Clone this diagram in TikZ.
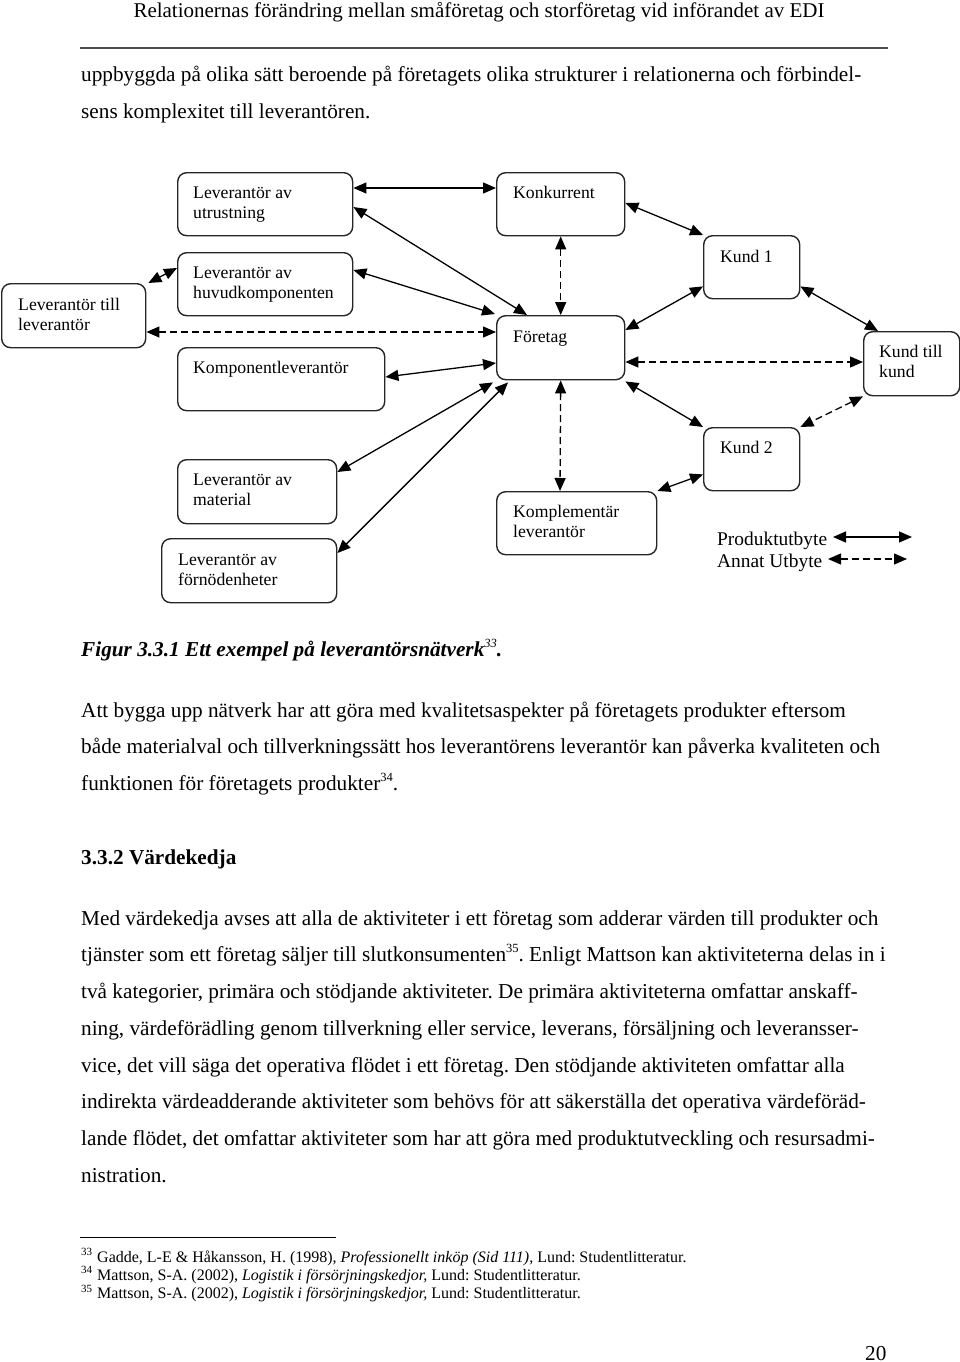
\documentclass[tikz,border=0pt]{standalone}
\usepackage{fontspec}
\setmainfont{Liberation Serif}
\usetikzlibrary{arrows.meta,calc}
\newcommand\supmark[1]{\raisebox{0.42em}{\fontsize{12.5}{12.5}\selectfont #1}}
\newcommand\fnmark[1]{\raisebox{0.42em}{\fontsize{11}{11}\selectfont #1}}
\frenchspacing
\begin{document}
\frenchspacing
\begin{tikzpicture}[x=1pt,y=-1pt,
  box/.style={draw=black!85, line width=1.4pt, rounded corners=9pt, inner sep=0pt, anchor=north west},
  lbl/.style={anchor=base west, inner sep=0pt, font=\fontsize{17.7}{20.5}\selectfont},
  leg/.style={anchor=base west, inner sep=0pt, font=\fontsize{19.4}{22}\selectfont},
  con/.style={line width=1.3pt, {Triangle[length=13pt,width=11pt]}-{Triangle[length=13pt,width=11pt]}},
  dsh/.style={con, dash pattern=on 7pt off 4pt},
  body/.style={anchor=base west, inner sep=0pt, font=\fontsize{21.25}{36.75}\selectfont\frenchspacing},
  foot/.style={anchor=base west, inner sep=0pt, font=\fontsize{16}{17}\selectfont\frenchspacing}
]
\useasboundingbox (0,0) rectangle (960,1362);

% header
\node[anchor=base, inner sep=0pt, font=\fontsize{21}{22}\selectfont] (hdr) at (479,18)
  {Relationernas förändring mellan småföretag och storföretag vid införandet av EDI};
\draw[line width=1.5pt, black!70] (80,48) -- (888,48);

\node[body] (p0) at (81,82) {\parbox[t]{950pt}{\raggedright\frenchspacing
uppbyggda på olika sätt beroende på företagets olika strukturer i relationerna och förbindel-\\
sens komplexitet till leverantören.}};

% boxes
\node[box, minimum width=175pt, minimum height=63pt] (utr) at (177,172) {};
\node[box, minimum width=175pt, minimum height=63pt] (huv) at (177,252) {};
\node[box, minimum width=144pt, minimum height=64pt] (ltl) at (1,283) {};
\node[box, minimum width=207pt, minimum height=63pt] (komp) at (177,347) {};
\node[box, minimum width=128pt, minimum height=63pt] (kon) at (496,172) {};
\node[box, minimum width=96pt, minimum height=63pt] (k1) at (703,235) {};
\node[box, minimum width=128pt, minimum height=64pt] (for) at (496,315) {};
\node[box, minimum width=96pt, minimum height=64pt] (ktk) at (863,331) {};
\node[box, minimum width=159pt, minimum height=64pt] (mat) at (177,459) {};
\node[box, minimum width=175pt, minimum height=64pt] (forn) at (161,538) {};
\node[box, minimum width=96pt, minimum height=63pt] (k2) at (703,427) {};
\node[box, minimum width=160pt, minimum height=63pt] (kpl) at (496,491) {};

% labels
\node[lbl] (tutr) at ($(utr.north west)+(16,26)$) {\parbox[t]{160pt}{\raggedright Leverantör av\\utrustning}};
\node[lbl] (thuv) at ($(huv.north west)+(16,26)$) {\parbox[t]{170pt}{\raggedright Leverantör av\\huvudkomponenten}};
\node[lbl] (tltl) at ($(ltl.north west)+(17,27)$) {\parbox[t]{140pt}{\raggedright Leverantör till\\leverantör}};
\node[lbl] (tkomp) at ($(komp.north west)+(16,26)$) {Komponentleverantör};
\node[lbl] (tkon) at ($(kon.north west)+(17,26)$) {Konkurrent};
\node[lbl] (tk1) at ($(k1.north west)+(17,27)$) {Kund 1};
\node[lbl] (tfor) at ($(for.north west)+(17,27)$) {Företag};
\node[lbl] (tktk) at ($(ktk.north west)+(16,26)$) {\parbox[t]{90pt}{\raggedright Kund till\\kund}};
\node[lbl] (tmat) at ($(mat.north west)+(16,26)$) {\parbox[t]{150pt}{\raggedright Leverantör av\\material}};
\node[lbl] (tforn) at ($(forn.north west)+(17,27)$) {\parbox[t]{160pt}{\raggedright Leverantör av\\förnödenheter}};
\node[lbl] (tk2) at ($(k2.north west)+(17,26)$) {Kund 2};
\node[lbl] (tkpl) at ($(kpl.north west)+(17,26)$) {\parbox[t]{150pt}{\raggedright Komplementär\\leverantör}};

% connectors
\draw[con] ($(utr.north east)+(0,16)$) -- ($(kon.north west)+(0,16)$);
\draw[con] ($(utr.north east)+(0,35)$) -- ($(for.north west)+(31,0)$);
\draw[con] ($(huv.north east)+(0,18)$) -- ($(for.north west)+(-1,-1)$);
\draw[dsh] ($(ltl.north east)+(0,49)$) -- ($(for.north west)+(0,17)$);
\draw[con] ($(komp.north east)+(0,30)$) -- ($(for.north west)+(0,48)$);
\draw[con] ($(mat.north east)+(0,13)$) -- ($(for.south west)+(-3,2)$);
\draw[con] ($(forn.north east)+(0,15)$) -- ($(for.south west)+(12,2)$);
\draw[con] ($(ltl.north east)+(2,0)$) -- ($(huv.north west)+(0,16)$);
\draw[dsh] (kon.south) -- (for.north);
\draw[con] ($(kon.north east)+(0,31)$) -- (k1.north west);
\draw[con] ($(k1.south west)+(0,-13)$) -- ($(for.north east)+(0,15)$);
\draw[con] ($(k1.south east)+(0,-13)$) -- ($(ktk.north west)+(15,0)$);
\draw[dsh] ($(for.north east)+(0,47)$) -- ($(ktk.north west)+(0,31)$);
\draw[con] ($(for.south east)+(0,1)$) -- (k2.north west);
\draw[dsh] (ktk.south west) -- (k2.north east);
\draw[con] ($(k2.south west)+(0,-17)$) -- (kpl.north east);
\draw[dsh] (for.south) -- ($(kpl.north west)+(64,0)$);

% legend
\node[leg] (lp) at (717,545) {Produktutbyte};
\node[leg] (la) at (717,567) {Annat Utbyte};
\coordinate (lp1) at (833,537);
\coordinate (lp2) at (912,537);
\coordinate (la1) at (828,559);
\coordinate (la2) at (907,559);
\draw[con] (lp1) -- (lp2);
\draw[dsh] (la1) -- (la2);

% caption
\node[body] (cap) at (81,656) {\textbf{\textit{Figur 3.3.1 Ett exempel på leverantörsnätverk\supmark{\mdseries 33}.}}};

\node[body] (p1) at (81,717) {\parbox[t]{950pt}{\raggedright\frenchspacing
Att bygga upp nätverk har att göra med kvalitetsaspekter på företagets produkter eftersom\\
både materialval och tillverkningssätt hos leverantörens leverantör kan påverka kvaliteten och\\
funktionen för företagets produkter\supmark{34}.}};

\node[body] (h2) at (81,864) {\textbf{3.3.2 Värdekedja}};

\node[body] (p2) at (81,925) {\parbox[t]{950pt}{\raggedright\frenchspacing
Med värdekedja avses att alla de aktiviteter i ett företag som adderar värden till produkter och\\
tjänster som ett företag säljer till slutkonsumenten\supmark{35}. Enligt Mattson kan aktiviteterna delas in i\\
två kategorier, primära och stödjande aktiviteter. De primära aktiviteterna omfattar anskaff-\\
ning, värdeförädling genom tillverkning eller service, leverans, försäljning och leveransser-\\
vice, det vill säga det operativa flödet i ett företag. Den stödjande aktiviteten omfattar alla\\
indirekta värdeadderande aktiviteter som behövs för att säkerställa det operativa värdeföräd-\\
lande flödet, det omfattar aktiviteter som har att göra med produktutveckling och resursadmi-\\
nistration.}};

% footnotes
\draw[line width=1pt] (80,1237) -- (336,1237);
\node[foot] (fn) at (81,1262) {\parbox[t]{900pt}{\raggedright\frenchspacing
\makebox[16pt][l]{\fnmark{33}}Gadde, L-E \& Håkansson, H. (1998), \textit{Professionellt inköp (Sid 111),} Lund: Studentlitteratur.\\
\makebox[16pt][l]{\fnmark{34}}Mattson, S-A. (2002), \textit{Logistik i försörjningskedjor,} Lund: Studentlitteratur.\\
\makebox[16pt][l]{\fnmark{35}}Mattson, S-A. (2002), \textit{Logistik i försörjningskedjor,} Lund: Studentlitteratur.}};

\node[body] (pg) at (865,1360) {20};
\end{tikzpicture}
\end{document}
